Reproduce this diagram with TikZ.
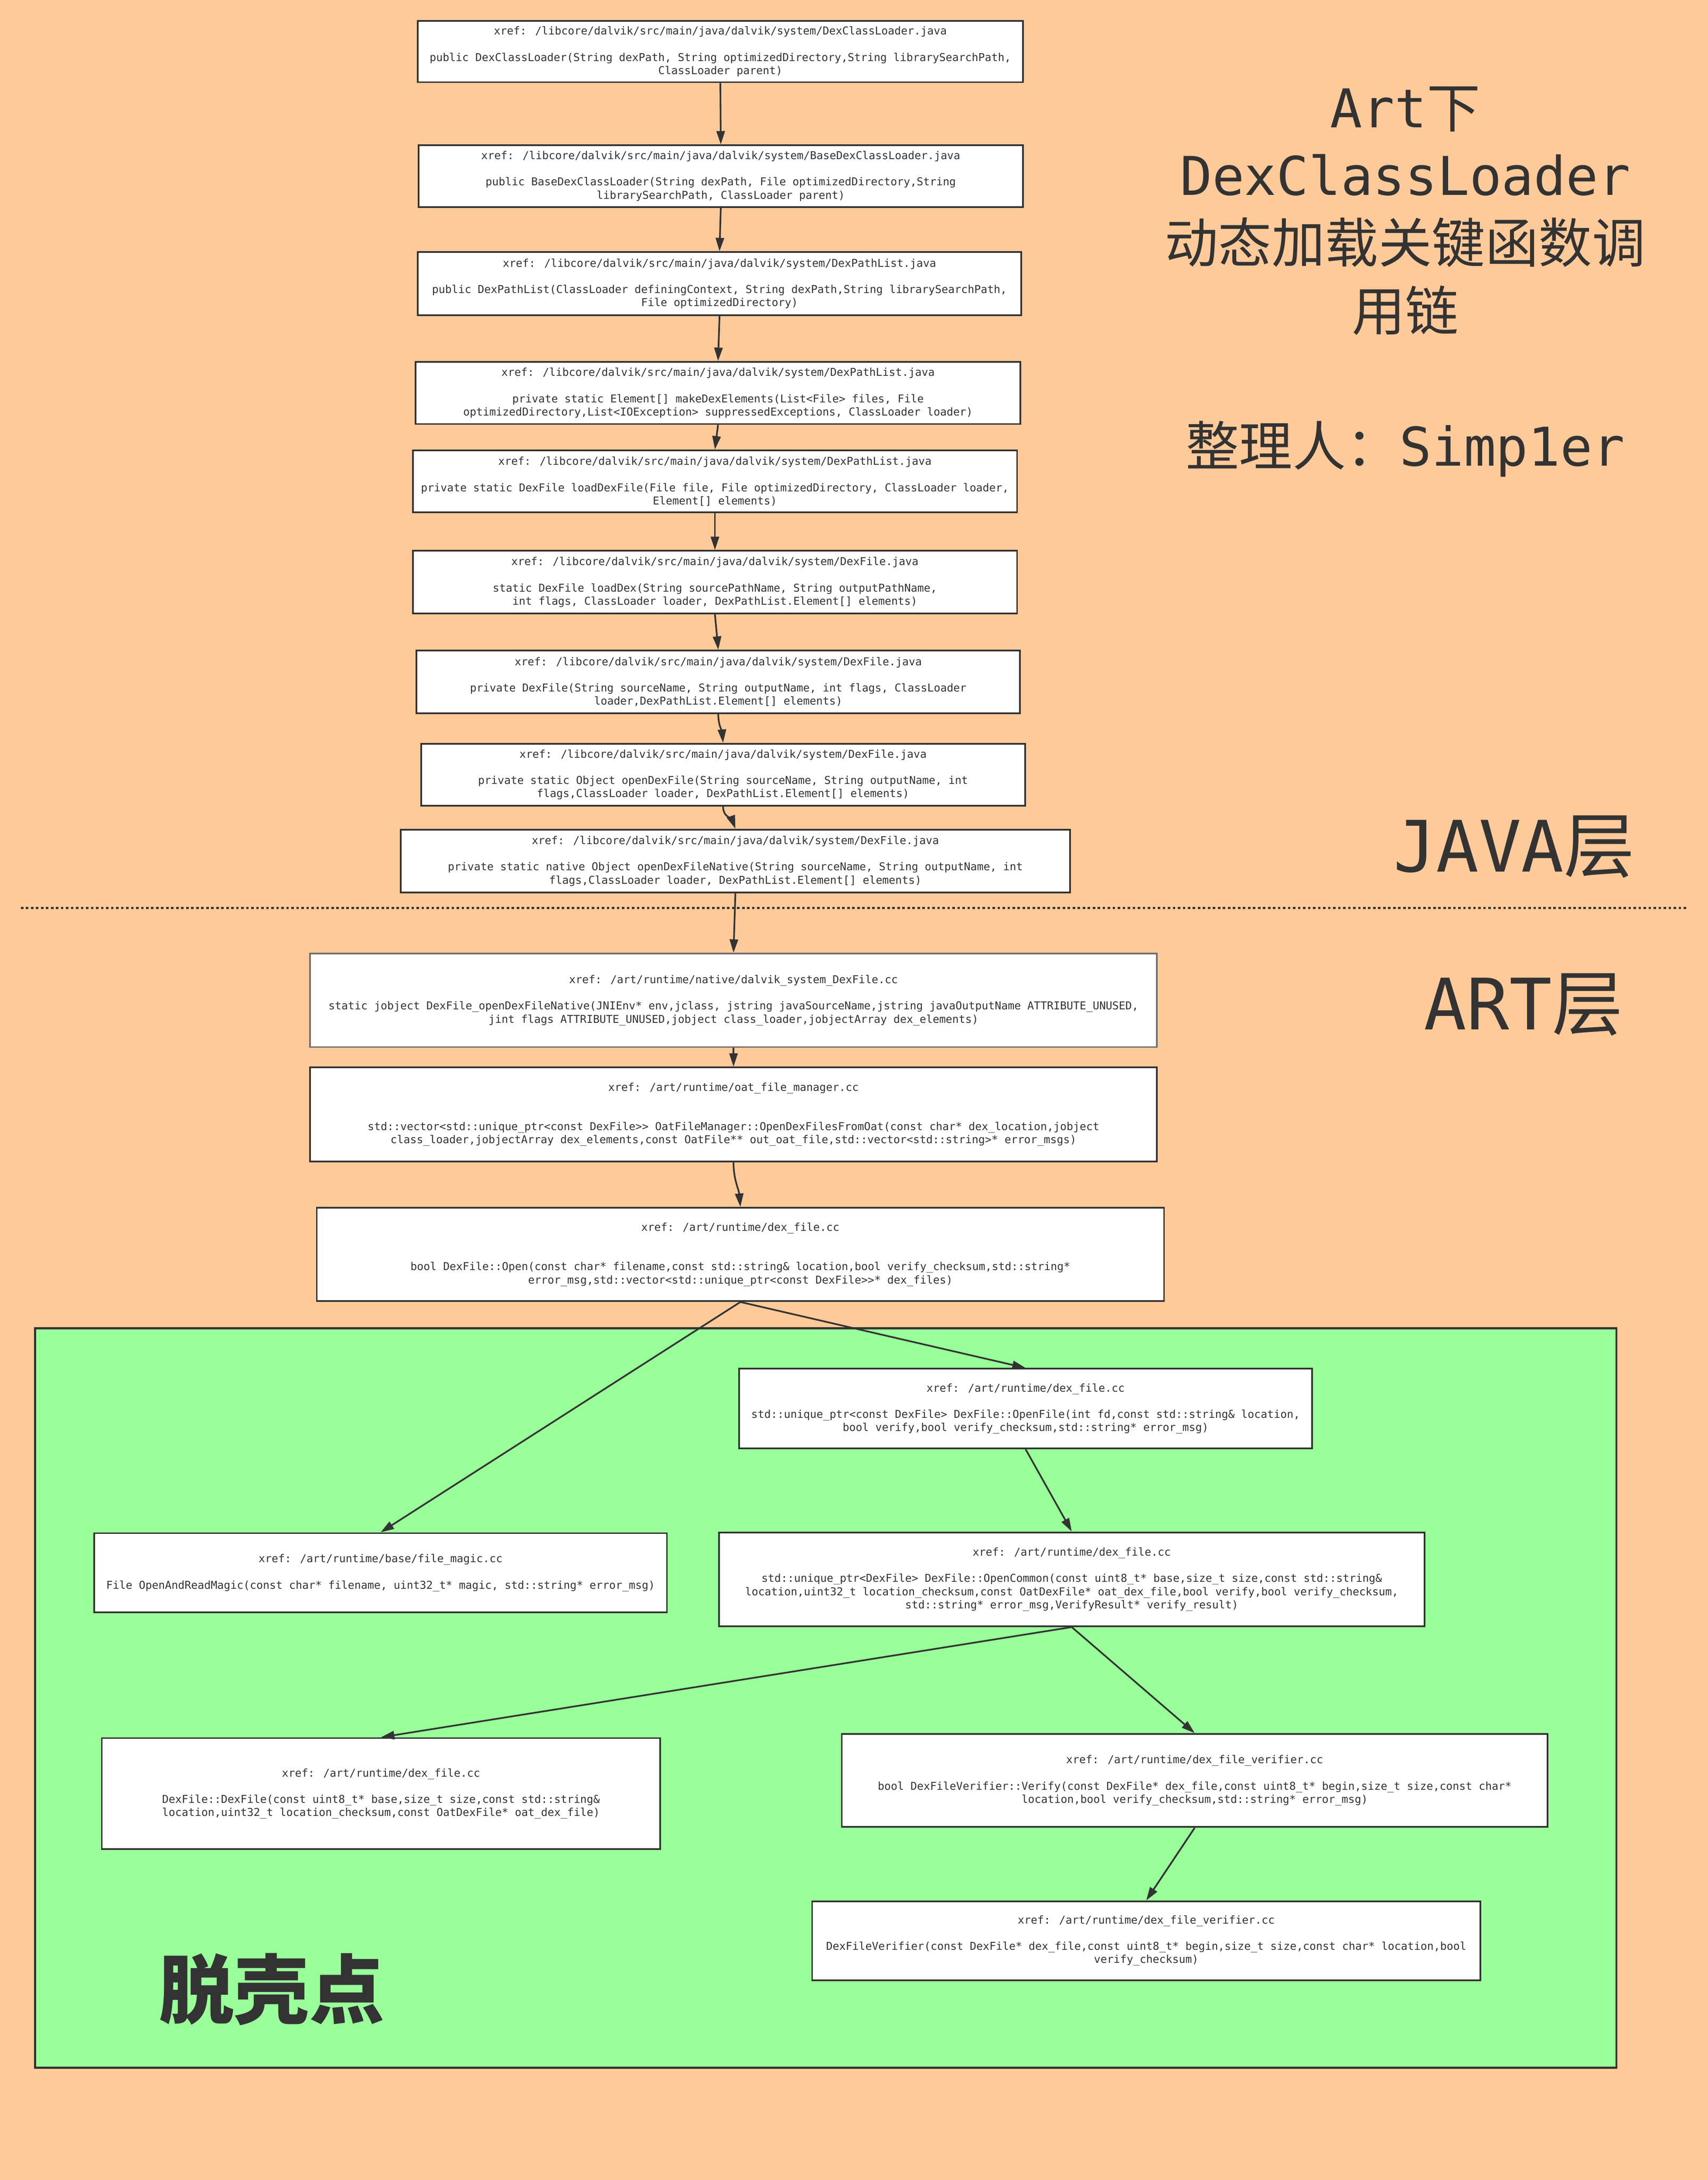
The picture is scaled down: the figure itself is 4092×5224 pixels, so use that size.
\documentclass[tikz,border=0pt]{standalone}
\usepackage{fontspec}
\newfontfamily\codefont{DejaVu Sans Mono}
\newfontfamily\cjk{Noto Sans CJK SC}
\usetikzlibrary{arrows.meta}
\definecolor{peach}{HTML}{FFCA99}
\definecolor{mint}{HTML}{99FF99}
\definecolor{ink}{HTML}{333333}
\definecolor{greyline}{HTML}{707070}
\tikzset{
  box/.style={draw=ink, line width=4pt, fill=white, inner sep=0pt, align=center,
    text=ink, font=\codefont\fontsize{26}{31.5}\selectfont},
  arr/.style={draw=ink, line width=4pt, -{Triangle[length=32pt,width=20pt]}},
  titletext/.style={text=ink, inner sep=0pt, anchor=base, font=\fontsize{128}{162}\selectfont},
  layertext/.style={text=ink, inner sep=0pt, anchor=base west, font=\fontsize{170}{200}\selectfont},
}
\begin{document}
\begin{tikzpicture}[x=1pt,y=-1pt]
\fill[peach] (0,0) rectangle (4092,5224);
\useasboundingbox (0,0) rectangle (4092,5224);

% green region
\draw[draw=ink, line width=5pt, fill=mint] (84,3183) rectangle (3873,4955);

% layer separator
\draw[ink, line width=5pt, dash pattern=on 6pt off 6pt] (50,2176) -- (4040,2176);

% title
\node[titletext] (t1) at (3367,306) {{\codefont Art}{\cjk 下}};
\node[titletext] (t2) at (3367,468) {\codefont DexClassLoader};
\node[titletext] (t3) at (3367,630) {\cjk 动态加载关键函数调};
\node[titletext] (t4) at (3367,792) {\cjk 用链};
\node[titletext] (t5) at (3367,1116) {{\cjk 整理人：}{\codefont Simp1er}};

% layer labels
\node[layertext] (java) at (3338,2089) {{\codefont JAVA}{\cjk 层}};
\node[layertext] (art) at (3412,2467) {{\codefont ART}{\cjk 层}};
\node[text=ink, inner sep=0pt, font=\cjk\bfseries\fontsize{180}{200}\selectfont] (shell) at (651,4767) {脱壳点};

% boxes
\node[box, minimum width=1450pt, minimum height=147pt] (b1) at (1726,123.5) {xref: /libcore/dalvik/src/main/java/dalvik/system/DexClassLoader.java\\[31.5pt]public DexClassLoader(String dexPath, String optimizedDirectory,String librarySearchPath,\\ClassLoader parent)};
\node[box, minimum width=1448pt, minimum height=148pt] (b2) at (1727,422) {xref: /libcore/dalvik/src/main/java/dalvik/system/BaseDexClassLoader.java\\[31.5pt]public BaseDexClassLoader(String dexPath, File optimizedDirectory,String\\librarySearchPath, ClassLoader parent)};
\node[box, minimum width=1446pt, minimum height=151pt] (b3) at (1724,679.5) {xref: /libcore/dalvik/src/main/java/dalvik/system/DexPathList.java\\[31.5pt]public DexPathList(ClassLoader definingContext, String dexPath,String librarySearchPath,\\File optimizedDirectory)};
\node[box, minimum width=1449pt, minimum height=149pt] (b4) at (1720.5,941.5) {xref: /libcore/dalvik/src/main/java/dalvik/system/DexPathList.java\\[31.5pt]private static Element[] makeDexElements(List<File> files, File\\optimizedDirectory,List<IOException> suppressedExceptions, ClassLoader loader)};
\node[box, minimum width=1448pt, minimum height=149pt] (b5) at (1713,1153.5) {xref: /libcore/dalvik/src/main/java/dalvik/system/DexPathList.java\\[31.5pt]private static DexFile loadDexFile(File file, File optimizedDirectory, ClassLoader loader,\\Element[] elements)};
\node[box, minimum width=1448pt, minimum height=150pt] (b6) at (1713,1395) {xref: /libcore/dalvik/src/main/java/dalvik/system/DexFile.java\\[31.5pt]static DexFile loadDex(String sourcePathName, String outputPathName,\\int flags, ClassLoader loader, DexPathList.Element[] elements)};
\node[box, minimum width=1446pt, minimum height=150pt] (b7) at (1721,1634) {xref: /libcore/dalvik/src/main/java/dalvik/system/DexFile.java\\[31.5pt]private DexFile(String sourceName, String outputName, int flags, ClassLoader\\loader,DexPathList.Element[] elements)};
\node[box, minimum width=1447pt, minimum height=149pt] (b8) at (1732.5,1856.5) {xref: /libcore/dalvik/src/main/java/dalvik/system/DexFile.java\\[31.5pt]private static Object openDexFile(String sourceName, String outputName, int\\flags,ClassLoader loader, DexPathList.Element[] elements)};
\node[box, minimum width=1604pt, minimum height=151pt] (b9) at (1762,2063.5) {xref: /libcore/dalvik/src/main/java/dalvik/system/DexFile.java\\[31.5pt]private static native Object openDexFileNative(String sourceName, String outputName, int\\flags,ClassLoader loader, DexPathList.Element[] elements)};
\node[box, draw=greyline, minimum width=2029pt, minimum height=224pt] (b10) at (1757.5,2397) {xref: /art/runtime/native/dalvik\_system\_DexFile.cc\\[31.5pt]static jobject DexFile\_openDexFileNative(JNIEnv* env,jclass, jstring javaSourceName,jstring javaOutputName ATTRIBUTE\_UNUSED,\\jint flags ATTRIBUTE\_UNUSED,jobject class\_loader,jobjectArray dex\_elements)};
\node[box, minimum width=2029pt, minimum height=225pt] (b11) at (1757.5,2670.5) {xref: /art/runtime/oat\_file\_manager.cc\\[63pt]std::vector<std::unique\_ptr<const DexFile>{}> OatFileManager::OpenDexFilesFromOat(const char* dex\_location,jobject\\class\_loader,jobjectArray dex\_elements,const OatFile** out\_oat\_file,std::vector<std::string>* error\_msgs)};
\node[box, minimum width=2030pt, minimum height=224pt] (b12) at (1774,3006) {xref: /art/runtime/dex\_file.cc\\[63pt]bool DexFile::Open(const char* filename,const std::string\& location,bool verify\_checksum,std::string*\\error\_msg,std::vector<std::unique\_ptr<const DexFile>{}>* dex\_files)};
\node[box, minimum width=1373pt, minimum height=191pt] (b13) at (2457.5,3375.5) {xref: /art/runtime/dex\_file.cc\\[31.5pt]std::unique\_ptr<const DexFile> DexFile::OpenFile(int fd,const std::string\& location,\\bool verify,bool verify\_checksum,std::string* error\_msg)};
\node[box, minimum width=1690pt, minimum height=225pt] (b14) at (2568,3784.5) {xref: /art/runtime/dex\_file.cc\\[31.5pt]std::unique\_ptr<DexFile> DexFile::OpenCommon(const uint8\_t* base,size\_t size,const std::string\&\\location,uint32\_t location\_checksum,const OatDexFile* oat\_dex\_file,bool verify,bool verify\_checksum,\\std::string* error\_msg,VerifyResult* verify\_result)};
\node[box, minimum width=1372pt, minimum height=190pt] (b15) at (912,3769) {xref: /art/runtime/base/file\_magic.cc\\[31.5pt]File OpenAndReadMagic(const char* filename, uint32\_t* magic, std::string* error\_msg)};
\node[box, minimum width=1338pt, minimum height=266pt] (b16) at (913,4298) {xref: /art/runtime/dex\_file.cc\\[31.5pt]DexFile::DexFile(const uint8\_t* base,size\_t size,const std::string\&\\location,uint32\_t location\_checksum,const OatDexFile* oat\_dex\_file)};
\node[box, minimum width=1691pt, minimum height=223pt] (b17) at (2862.5,4266.5) {xref: /art/runtime/dex\_file\_verifier.cc\\[31.5pt]bool DexFileVerifier::Verify(const DexFile* dex\_file,const uint8\_t* begin,size\_t size,const char*\\location,bool verify\_checksum,std::string* error\_msg)};
\node[box, minimum width=1601pt, minimum height=189pt] (b18) at (2746.5,4650.5) {xref: /art/runtime/dex\_file\_verifier.cc\\[31.5pt]DexFileVerifier(const DexFile* dex\_file,const uint8\_t* begin,size\_t size,const char* location,bool\\verify\_checksum)};

% connectors
\draw[arr] (b1.south) -- (b2.north);
\draw[arr] (b2.south) -- (b3.north);
\draw[arr] (b3.south) -- (b4.north);
\draw[arr] (b4.south) -- (b5.north);
\draw[arr] (b5.south) -- (b6.north);
\draw[arr] (b6.south) -- (b7.north);
\draw[arr] (b7.south) to[out=-90,in=95] (b8.north);
\draw[arr] (b8.south) to[out=-90,in=110] (b9.north);
\draw[arr] (b9.south) -- (b10.north);
\draw[arr] (b10.south) -- (b11.north);
\draw[arr] (b11.south) to[out=-90,in=95] (b12.north);
\draw[arr] (b12.south) -- (b15.north);
\draw[arr] (b12.south) -- (b13.north);
\draw[arr] (b13.south) -- (b14.north);
\draw[arr] (b14.south) -- (b16.north);
\draw[arr] (b14.south) -- (b17.north);
\draw[arr] (b17.south) -- (b18.north);
\end{tikzpicture}
\end{document}
